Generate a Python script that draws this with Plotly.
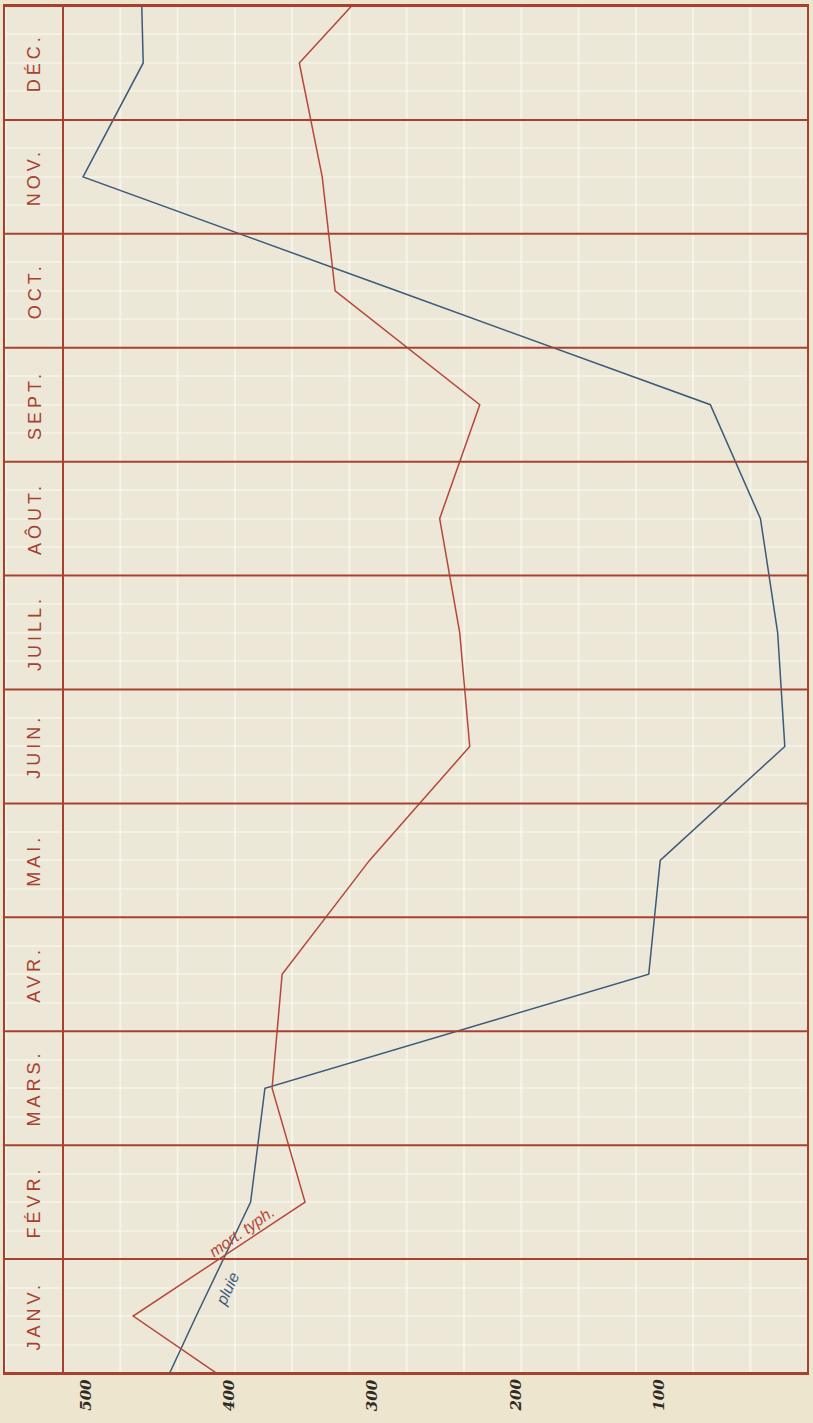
import plotly.graph_objects as go

# Mois (de bas en haut), avec le mois précédent et le mois suivant aux bords
months = ["JANV.", "FÉVR.", "MARS.", "AVR.", "MAI.", "JUIN.",
          "JUILL.", "AÔUT.", "SEPT.", "OCT.", "NOV.", "DÉC."]
positions = list(range(-1, 13))  # -1 = déc. précédent, 12 = janv. suivant

# Mortalité typhoïdique (rouge)
mort_typh = [351, 467, 347, 370, 363, 302, 232, 239, 253, 225, 326, 335, 351, 278]
# Pluie (bleu)
pluie = [460, 423, 385, 375, 107, 99, 12, 17, 29, 64, 283, 502, 460, 462]

scale_values = [500, 400, 300, 200, 100]

RED = "#A8402F"
LINE_RED = "#B5483A"
BLUE = "#3B5A7C"
BG = "#ECE7D6"
PAPER = "#EEE5CE"
GRID_V = "rgba(250,248,240,0.75)"
GRID_H = "rgba(250,248,240,0.55)"

X_LEFT, X_RIGHT = 556.5, -3.5   # valeurs aux bords du cadre
X_COL = 516                      # séparation de la colonne des mois

fig = go.Figure()

fig.add_trace(go.Scatter(x=pluie, y=positions, mode="lines",
                         line=dict(color=BLUE, width=1.5), showlegend=False))
fig.add_trace(go.Scatter(x=mort_typh, y=positions, mode="lines",
                         line=dict(color=LINE_RED, width=1.5), showlegend=False))

shapes = []
# Lignes verticales claires du quadrillage
v = -4
while v <= X_LEFT:
    shapes.append(dict(type="line", xref="x", yref="paper", x0=v, x1=v, y0=0, y1=1,
                       layer="below", line=dict(color=GRID_V, width=2)))
    v += 40
# Séparations des mois
for k in range(13):
    yb = -0.5 + k
    shapes.append(dict(type="line", xref="x", yref="y", x0=X_LEFT, x1=X_RIGHT,
                       y0=yb, y1=yb, line=dict(color=RED, width=2)))
# Colonne des mois
shapes.append(dict(type="line", xref="x", yref="paper", x0=X_COL, x1=X_COL,
                   y0=0, y1=1, line=dict(color=RED, width=2)))

annotations = []
for i, m in enumerate(months):
    annotations.append(dict(x=536, y=i, xref="x", yref="y", text=m,
                            textangle=-90, showarrow=False,
                            font=dict(family="Liberation Sans, Arial", size=18, color=RED)))

for val in scale_values:
    annotations.append(dict(x=val, y=-0.016, xref="x", yref="paper", text=f"<b><i>{val}</i></b>",
                            textangle=-90, showarrow=False, yanchor="middle",
                            font=dict(family="DejaVu Serif, Liberation Serif", size=15, color="#2E2A26")))

annotations.append(dict(x=391, y=0.74, xref="x", yref="y", text="<i>mort. typh.</i>",
                        textangle=-35, showarrow=False,
                        font=dict(family="Liberation Sans, Arial", size=16, color=LINE_RED)))
annotations.append(dict(x=401, y=0.24, xref="x", yref="y", text="<i>pluie</i>",
                        textangle=-65, showarrow=False,
                        font=dict(family="Liberation Sans, Arial", size=16, color=BLUE)))

fig.update_layout(
    width=813, height=1423,
    margin=dict(l=5, r=5, t=4, b=50),
    paper_bgcolor=PAPER, plot_bgcolor=BG,
    shapes=shapes, annotations=annotations,
    xaxis=dict(range=[X_LEFT, X_RIGHT], showticklabels=False, ticks="", showgrid=False,
               zeroline=False, showline=True, mirror=True, linecolor=RED, linewidth=2),
    yaxis=dict(range=[-0.5, 11.5], showticklabels=False, ticks="",
               showgrid=True, gridcolor=GRID_H, gridwidth=1.5, tick0=-0.5, dtick=0.25,
               zeroline=False, showline=True, mirror=True, linecolor=RED, linewidth=2),
)

# Espacement des lettres des noms de mois
letter_spacing = """
var names = %s;
document.querySelectorAll('.annotation-text').forEach(function (t) {
  if (names.indexOf(t.textContent) >= 0) {
    t.style.letterSpacing = '4px';
  }
});
""" % str(months).replace("'", '"')

fig.write_html("out.html", post_script=letter_spacing)
